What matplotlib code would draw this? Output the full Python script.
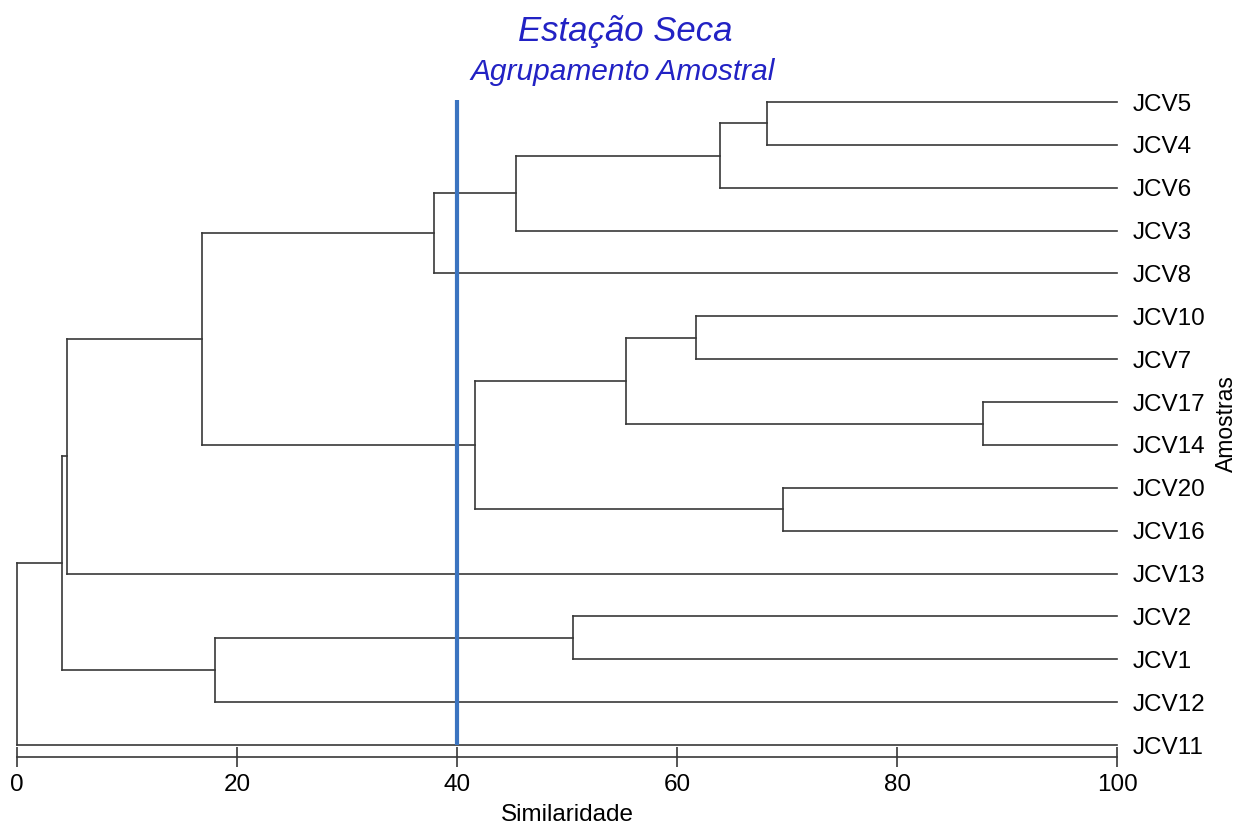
import numpy as np
import matplotlib.pyplot as plt

plt.rcParams['font.family'] = ['Liberation Sans', 'DejaVu Sans']

# leaves, top to bottom as drawn
leaves = ["JCV5", "JCV4", "JCV6", "JCV3", "JCV8", "JCV10", "JCV7", "JCV17",
          "JCV14", "JCV20", "JCV16", "JCV13", "JCV2", "JCV1", "JCV12", "JCV11"]

# merges: (child a, child b, similarity); ints refer to earlier merges
merges = [
    ("JCV5", "JCV4", 68.2),
    (0, "JCV6", 63.9),
    (1, "JCV3", 45.4),
    (2, "JCV8", 37.9),
    ("JCV10", "JCV7", 61.7),
    ("JCV17", "JCV14", 87.8),
    (4, 5, 55.4),
    ("JCV20", "JCV16", 69.6),
    (6, 7, 41.6),
    (3, 8, 16.8),
    (9, "JCV13", 4.5),
    ("JCV2", "JCV1", 50.5),
    (11, "JCV12", 18.0),
    (10, 12, 4.1),
    (13, "JCV11", 0.0),
]

cut_level = 40
xticks = [0, 20, 40, 60, 80, 100]

n = len(leaves)
leaf_y = {name: n - 1 - i for i, name in enumerate(leaves)}

fig = plt.figure(figsize=(12.41, 8.25), dpi=100)
ax = fig.add_axes([0.0137, 0.0824, 0.8864, 0.8085])

line_col = '#383838'
node_pos = []


def pos(c):
    if isinstance(c, int):
        return node_pos[c]
    return (100.0, leaf_y[c])


for a, b, s in merges:
    xa, ya = pos(a)
    xb, yb = pos(b)
    ax.plot([xa, s], [ya, ya], color=line_col, lw=1.2, clip_on=False)
    ax.plot([xb, s], [yb, yb], color=line_col, lw=1.2, clip_on=False)
    ax.plot([s, s], [ya, yb], color=line_col, lw=1.2, clip_on=False)
    node_pos.append((s, (ya + yb) / 2))

ax.plot([cut_level, cut_level], [-0.0, n - 1 + 0.05], color='#3b74c0', lw=3.0,
        solid_capstyle='butt')

ax.set_xlim(0, 100)
ax.set_ylim(-0.28, n - 1 + 0.28)

for sp in ['top', 'left', 'right']:
    ax.spines[sp].set_visible(False)
ax.spines['bottom'].set_color(line_col)
ax.spines['bottom'].set_linewidth(1.2)

ax.set_xticks(xticks)
ax.set_xticklabels([str(t) for t in xticks])
ax.tick_params(axis='x', direction='inout', length=14, width=1.2,
               color=line_col, labelsize=17.5, pad=5)

ax.yaxis.tick_right()
ax.set_yticks([leaf_y[l] for l in leaves])
ax.set_yticklabels(leaves)
ax.tick_params(axis='y', length=0, labelsize=17.5, pad=11)
ax.yaxis.set_label_position('right')
ax.set_ylabel("Amostras", fontsize=16.5, labelpad=7)

ax.set_xlabel("Similaridade", fontsize=17.5, labelpad=6)

fig.text(625 / 1241, 1 - 31 / 825, "Estação Seca", color='#2222c4',
         fontsize=25, style='italic', ha='center', va='center')
fig.text(623 / 1241, 1 - 72 / 825, "Agrupamento Amostral", color='#2222c4',
         fontsize=21.5, style='italic', ha='center', va='center')

fig.savefig('out.png', dpi=100)
